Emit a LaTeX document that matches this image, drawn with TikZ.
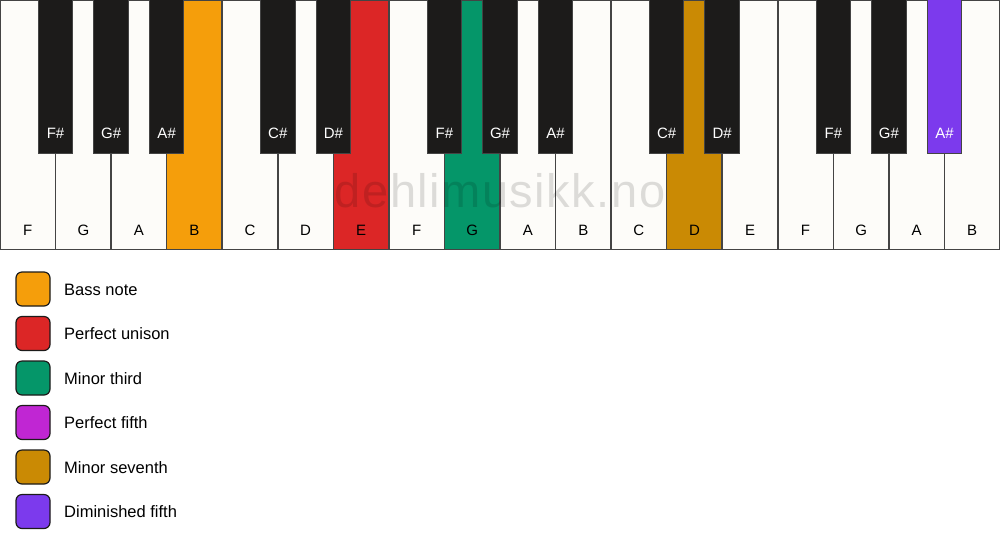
\documentclass[tikz,border=0pt]{standalone}
\usepackage{fontspec}
\setmainfont{Liberation Sans}
\newfontfamily\wmfont[LetterSpace=3.2]{Liberation Sans}
\definecolor{wkey}{HTML}{FDFCF9}
\definecolor{bkey}{HTML}{1C1B1A}
\definecolor{keyline}{HTML}{444444}
\definecolor{cbass}{HTML}{F59E0B}
\definecolor{cunison}{HTML}{DC2626}
\definecolor{cthird}{HTML}{059669}
\definecolor{cfifth}{HTML}{C026D3}
\definecolor{cseventh}{HTML}{CA8A04}
\definecolor{cdim}{HTML}{7C3AED}
\begin{document}
\begin{tikzpicture}[x=1pt,y=-1pt,
 whitekey/.style={draw=keyline,line width=1.5pt},
 blackkey/.style={draw=keyline,line width=1pt},
 wlabel/.style={font=\fontsize{15}{18}\selectfont,text=black,inner sep=0pt},
 blabel/.style={font=\fontsize{15}{18}\selectfont,text=white,inner sep=0pt},
 swatch/.style={draw=bkey,line width=1.2pt,rounded corners=6pt,minimum width=34pt,minimum height=34pt,inner sep=0pt},
 legtext/.style={font=\fontsize{16.5}{19}\selectfont,anchor=west,inner sep=0pt},
 watermark/.style={font=\wmfont\fontsize{47}{56}\selectfont,text=black,text opacity=0.13,inner sep=0pt}]
\useasboundingbox (0,0) rectangle (1000,550);
\fill[white] (0,0) rectangle (1000,550);
\def\ww{55.5556}
\foreach \i/\n/\c in {0/F/wkey,1/G/wkey,2/A/wkey,3/B/cbass,4/C/wkey,5/D/wkey,6/E/cunison,7/F/wkey,8/G/cthird,9/A/wkey,10/B/wkey,11/C/wkey,12/D/cseventh,13/E/wkey,14/F/wkey,15/G/wkey,16/A/wkey,17/B/wkey} {
  \draw[whitekey,fill=\c] ({\i*\ww},0) rectangle ({(\i+1)*\ww},249.5);
  \node[wlabel] (w\i) at ({(\i+0.5)*\ww},230.5) {\n};
}
\foreach \i/\n/\c/\t in {0/F\#/bkey/white,1/G\#/bkey/white,2/A\#/bkey/white,4/C\#/bkey/white,5/D\#/bkey/white,7/F\#/bkey/white,8/G\#/bkey/white,9/A\#/bkey/white,11/C\#/bkey/white,12/D\#/bkey/white,14/F\#/bkey/white,15/G\#/bkey/white,16/A\#/cdim/white} {
  \draw[blackkey,fill=\c] ({(\i+1)*\ww-17.3},-1) rectangle ({(\i+1)*\ww+17.3},153);
  \node[blabel,text=\t] (b\i) at ({(\i+1)*\ww},133) {\n};
}
\node[watermark] (wm) at (500,190.5) {dehlimusikk.no};
\foreach \k/\c/\txt [count=\j from 0] in {a/cbass/Bass note,b/cunison/Perfect unison,c/cthird/Minor third,d/cfifth/Perfect fifth,e/cseventh/Minor seventh,f/cdim/Diminished fifth} {
  \node[swatch,fill=\c] (s\k) at (33,{289+44.5*\j}) {};
  \node[legtext] (t\k) at (64,{289.5+44.5*\j}) {\txt};
}
\end{tikzpicture}
\end{document}
